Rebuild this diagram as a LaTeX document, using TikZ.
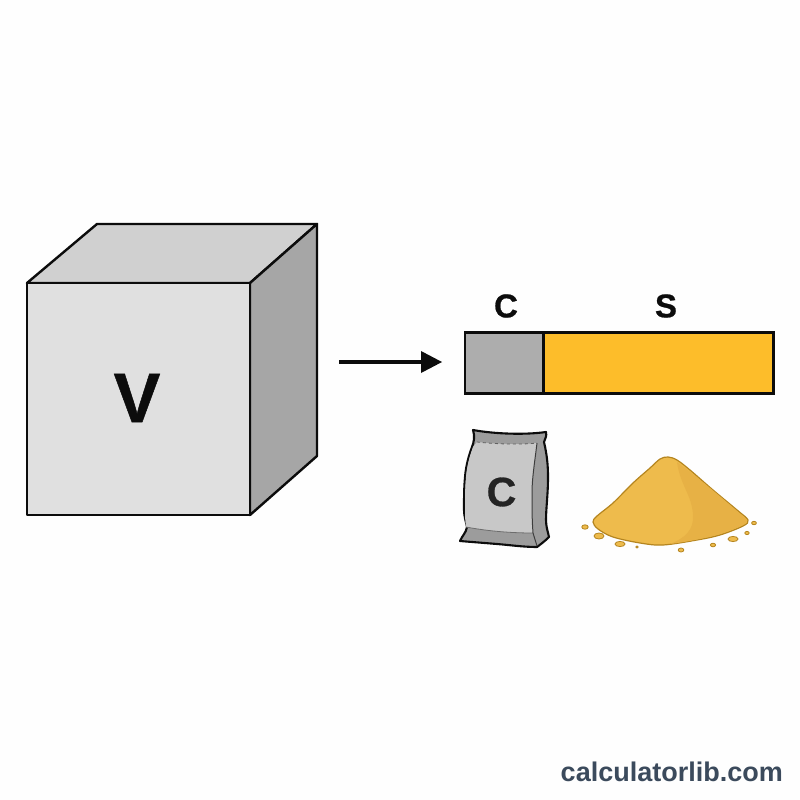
\documentclass[tikz,border=0pt]{standalone}
\usepackage{fontspec}
\setmainfont{Liberation Sans}
\newfontfamily\heavyfont{Liberation Sans}[BoldFeatures={FakeBold=0.7}]
\definecolor{cubefront}{HTML}{E0E0E0}
\definecolor{cubetop}{HTML}{D0D0D0}
\definecolor{cubeside}{HTML}{A6A6A6}
\definecolor{barcement}{HTML}{ADADAD}
\definecolor{barsand}{HTML}{FDBD2A}
\definecolor{ink}{HTML}{0C0C0C}
\definecolor{brand}{HTML}{3B4A5C}
\definecolor{bagface}{HTML}{C8C8C8}
\definecolor{bagshade}{HTML}{9C9C9C}
\definecolor{sandmain}{HTML}{EEBB4C}
\definecolor{sandshade}{HTML}{E7B145}
\definecolor{sandedge}{HTML}{B5851F}
\tikzset{
  cubeface/.style={draw=ink,line width=2.4pt,line join=round},
  barpart/.style={draw=ink,line width=2.4pt,minimum height=61pt,inner sep=0pt,outer sep=0pt,anchor=north west},
  biglabel/.style={font=\heavyfont\fontsize{33}{33}\selectfont\bfseries,text=ink,inner sep=0pt},
  grain/.style={fill=sandmain,draw=sandedge,line width=.8pt}
}
\begin{document}
\begin{tikzpicture}[x=1pt,y=-1pt]
\useasboundingbox (0,0) rectangle (800,800);
\fill[white!99.5!black] (0,0) rectangle (800,800);

% block of volume V
\path[cubeface,fill=cubetop] (27,283) -- (97,224) -- (317,224) -- (250,283) -- cycle;
\path[cubeface,fill=cubeside] (250,283) -- (317,224) -- (317,456) -- (250,515) -- cycle;
\path[cubeface,fill=cubefront] (27,283) rectangle (250,515);
\node[font=\heavyfont\fontsize{70}{70}\selectfont\bfseries,text=ink,inner sep=0pt] (vol) at (137,398) {V};

% arrow towards the mix bar
\coordinate (arrowstart) at (339,362);
\coordinate (arrowend) at (442,362);
\draw[ink,line width=3.6pt] (arrowstart) -- (424,362);
\fill[ink] (arrowend) -- (421,351) -- (421,373) -- cycle;

% proportion bar
\node[barpart,fill=barcement,minimum width=79pt] (cement) at (465,332.5) {};
\node[barpart,fill=barsand,minimum width=230pt] (sand) at (543.5,332.5) {};
\node[biglabel] (clabel) at (506,306) {C};
\node[biglabel] (slabel) at (666,306) {S};

% cement bag
\path[fill=bagshade,draw=ink,line width=2.1pt,line join=round]
  (473,430) .. controls (495,434) and (525,435) .. (546,432)
  .. controls (547,436) and (545,439) .. (544,442)
  .. controls (547,455) and (548,465) .. (548,477)
  .. controls (548,495) and (546,508) .. (546,520)
  .. controls (546,527) and (548,532) .. (549,537)
  .. controls (545,541) and (541,544) .. (537,547)
  .. controls (523,547) and (510,545) .. (497,544)
  .. controls (485,543) and (472,542) .. (460,541)
  .. controls (462,536) and (466,533) .. (467,527)
  .. controls (466,522) and (464,516) .. (464,510)
  .. controls (464,498) and (464,488) .. (465,477)
  .. controls (466,465) and (469,455) .. (472,447)
  .. controls (474,442) and (475,436) .. (473,430) -- cycle;
\path[fill=bagface]
  (477,442) .. controls (495,444) and (520,445) .. (537,443)
  .. controls (535,460) and (532,478) .. (532,493)
  .. controls (532,508) and (532,520) .. (533,533)
  .. controls (510,533) and (487,531) .. (466,527)
  .. controls (465,520) and (465,515) .. (465,510)
  .. controls (465,498) and (465,488) .. (466,477)
  .. controls (467,465) and (470,455) .. (473,447)
  -- cycle;
\draw[ink!65!white,line width=.8pt,dashed] (477,442) .. controls (495,444) and (520,445) .. (537,443);
\draw[ink!60!white,line width=.8pt] (466,527) .. controls (487,531) and (510,533) .. (533,533);
\draw[ink!80!white,line width=1pt] (537,443) .. controls (535,460) and (532,478) .. (532,493)
  .. controls (532,508) and (532,520) .. (533,533) -- (537,546);
\node[font=\heavyfont\fontsize{41}{41}\selectfont\bfseries,text=ink!90!white,inner sep=0pt] (bagc) at (501.5,492) {C};

% sand heap
\path[fill=sandmain,draw=sandedge,line width=1.2pt,line join=round,smooth cycle,tension=.55]
  plot coordinates {(668,457) (677,460) (690,470) (713,490) (737,510) (748,520) (743,526) (720,535) (697,540) (663,545) (640,543) (613,537) (598,529) (593,522) (597,516) (613,503) (633,483) (650,468) (660,459)};
\path[fill=sandshade]
  (677,462) .. controls (690,471) and (725,500) .. (746,519)
  .. controls (748,521) and (746,524) .. (743,525)
  .. controls (725,534) and (700,540) .. (670,544)
  .. controls (685,538) and (694,530) .. (693,515)
  .. controls (692,495) and (680,485) .. (677,462) -- cycle;
\foreach \gx/\gy/\ga/\gb in {585/527/3.2/2.2, 599/536/5/3, 620/544/5/2.6, 637/547/1.2/1, 681/550/2.8/2, 713/545/2.6/1.8, 733/539/5/2.6, 747/533/2.2/1.6, 754/523/2.4/1.7}
  \path[grain] (\gx,\gy) ellipse [x radius=\ga, y radius=\gb];

% site name
\node[font=\fontsize{27}{27}\selectfont\bfseries,text=brand,inner sep=0pt,anchor=east] (brandname) at (783,772) {calculatorlib.com};
\end{tikzpicture}
\end{document}
